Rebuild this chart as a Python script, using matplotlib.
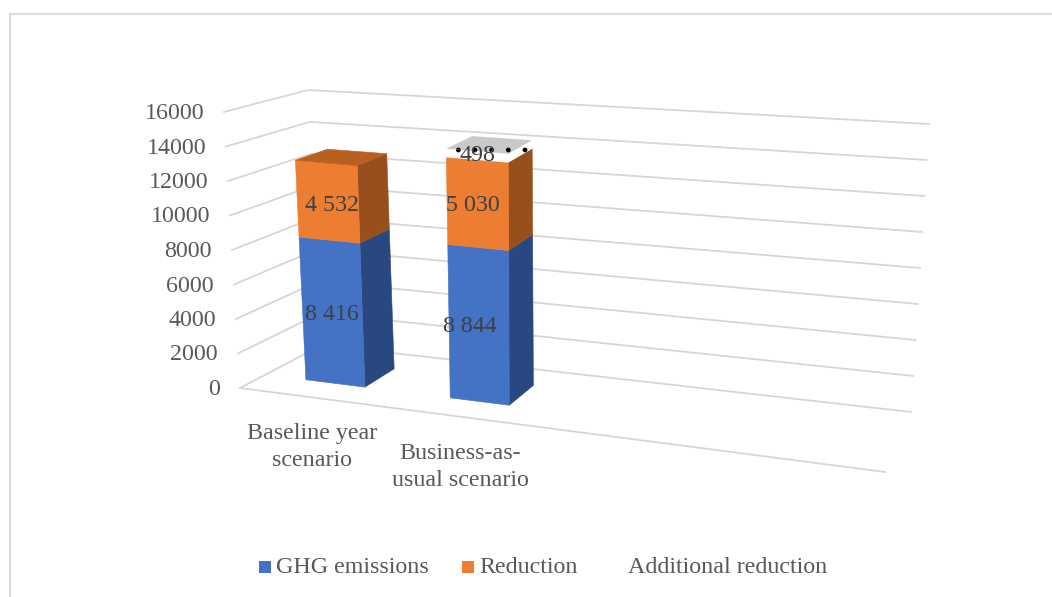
import matplotlib
matplotlib.use('Agg')
import matplotlib.pyplot as plt
from matplotlib.patches import Polygon, Rectangle
import numpy as np

# --- data ---
categories = ['Baseline year\nscenario', 'Business-as-\nusual scenario']
ghg_emissions = [8416, 8844]
reduction = [4532, 5030]
additional_reduction = [0, 498]
y_ticks = [0, 2000, 4000, 6000, 8000, 10000, 12000, 14000, 16000]
legend_labels = ['GHG emissions', 'Reduction', 'Additional reduction']

# --- styling ---
W, H = 1052, 597
Y_MAX = 16000
FONT_SIZE = 17.3
TEXT_COLOR = '#595959'
LABEL_COLOR = '#404040'
GRID_COLOR = '#d6d6d6'
BLUE = ('#4472c4', '#2a4880', '#345a9e')
ORANGE = ('#ed7d31', '#97501b', '#b8601f')
DOTTED = ('#ffffff', '#ffffff', '#c9c9c9')

# corners of the 3D plot box, (side, depth, top) -> pixel position
BOX = {
    (0, 0, 0): (240, 388), (1, 0, 0): (885, 472),
    (0, 1, 0): (322, 345), (1, 1, 0): (911, 412),
    (0, 0, 1): (224, 112), (1, 0, 1): (908, 172),
    (0, 1, 1): (308, 90), (1, 1, 1): (929, 124),
}

# bars: centre along the category axis, half width, depth range
BAR_CENTERS = [0.1115, 0.3415]
BAR_HALF = 0.047
BAR_DEPTH = (0.31, 0.71)

# small per-bar shifts of the value labels, pixels (dx, dy)
LABEL_SHIFT = [[(0, 3), (4, 4), (0, 0)], [(-9, 2), (-5, 2), (0, 0)]]


def project(u, w, value):
    """Trilinear mapping of (category, depth, value) into the pixel plane."""
    v = value / Y_MAX
    x, y = 0.0, 0.0
    for (a, b, c), (px, py) in BOX.items():
        k = (u if a else 1 - u) * (w if b else 1 - w) * (v if c else 1 - v)
        x += k * px
        y += k * py
    return x, y


def draw_segment(ax, u, v0, v1, colors, hatch=None, draw_top=False):
    """Draws one stacked piece of a bar: back faces first, front on top."""
    front, side, top = colors
    u0, u1 = u - BAR_HALF, u + BAR_HALF
    d0, d1 = BAR_DEPTH
    faces = [
        ([(u1, d0, v0), (u1, d1, v0), (u1, d1, v1), (u1, d0, v1)], side),
        ([(u0, d0, v0), (u1, d0, v0), (u1, d0, v1), (u0, d0, v1)], front),
    ]
    if draw_top:
        faces.append(([(u0, d0, v1), (u1, d0, v1), (u1, d1, v1), (u0, d1, v1)], top))
    for corners, color in faces:
        pts = [project(*c) for c in corners]
        ax.add_patch(Polygon(pts, closed=True, facecolor=color,
                             edgecolor='black' if hatch else color,
                             hatch=hatch, linewidth=0 if hatch else 0.4, zorder=3))


fig = plt.figure(figsize=(W / 100, H / 100), dpi=100)
ax = fig.add_axes([0, 0, 1, 1])
ax.set_xlim(0, W)
ax.set_ylim(H, 0)
ax.axis('off')
plt.rcParams['font.family'] = ['Liberation Serif', 'DejaVu Serif']

# chart frame, only the top and left edges are visible
ax.plot([9.5, 9.5, W], [H, 13.5, 13.5], color='#dcdcdc', lw=1.6, zorder=1,
        solid_joinstyle='miter')

# gridlines on the side wall and the back wall
for t in y_ticks:
    a = project(0, 0, t)
    b = project(0, 1, t)
    c = project(1, 1, t)
    ax.plot([a[0], b[0], c[0]], [a[1], b[1], c[1]], color=GRID_COLOR, lw=1.3, zorder=2,
            solid_joinstyle='miter')
    ax.text(a[0] - 20, a[1] + 1.5, str(t), ha='right', va='center',
            fontsize=FONT_SIZE, color=TEXT_COLOR)

# floor front edge
a = project(0, 0, 0)
b = project(1, 0, 0)
ax.plot([a[0], b[0]], [a[1], b[1]], color=GRID_COLOR, lw=1.3, zorder=2)

# stacked bars
for i, u in enumerate(BAR_CENTERS):
    g, r, extra = ghg_emissions[i], reduction[i], additional_reduction[i]
    draw_segment(ax, u, 0, g, BLUE)
    draw_segment(ax, u, g, g + r, ORANGE, draw_top=extra == 0)
    if extra:
        draw_segment(ax, u, g + r, g + r + extra, DOTTED, hatch='.', draw_top=True)

    # value labels on the front faces
    base = 0
    for j, val in enumerate((g, r, extra)):
        if val:
            x, y = project(u, BAR_DEPTH[0], base + val / 2)
            dx, dy = LABEL_SHIFT[i][j]
            ax.text(x + dx, y + dy, f'{val:,}'.replace(',', ' '),
                    ha='center', va='center', fontsize=FONT_SIZE, color=LABEL_COLOR, zorder=5)
        base += val

# category labels under the floor
label_anchors = [(312, 447), (460, 467)]
for name, (x, y) in zip(categories, label_anchors):
    ax.text(x, y, name, ha='center', va='center', fontsize=FONT_SIZE, color=TEXT_COLOR,
            linespacing=1.42)

# legend, the last entry has no visible swatch
swatches = [BLUE[0], ORANGE[0], None]
legend_x = [259, 462, 611]
for label, color, x in zip(legend_labels, swatches, legend_x):
    if color:
        ax.add_patch(Rectangle((x, 561), 12, 12, facecolor=color, edgecolor='none'))
    ax.text(x + 17, 567.5, label, ha='left', va='center', fontsize=FONT_SIZE, color=TEXT_COLOR)

fig.savefig('out.png', dpi=100)
